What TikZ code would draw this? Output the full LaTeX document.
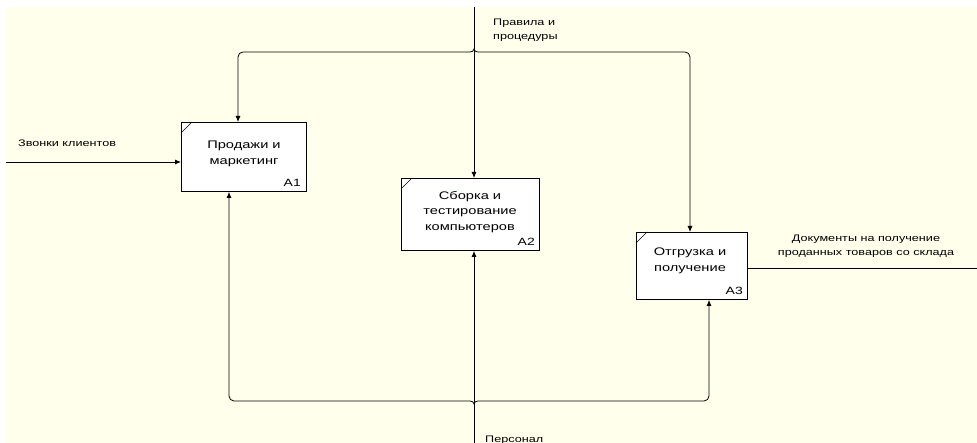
\documentclass[tikz,border=0pt]{standalone}
\usepackage{fontspec}
\setmainfont{Liberation Sans}[FakeStretch=1.33]
\usetikzlibrary{arrows.meta,calc}
\definecolor{cream}{RGB}{255,255,235}
\begin{document}
\begin{tikzpicture}[x=1pt,y=-1pt,
  box/.style={draw=black,fill=white,line width=0.9pt,inner sep=0pt,anchor=north west},
  boxtext/.style={font=\fontsize{11}{15.5}\selectfont,align=center,inner sep=0pt},
  numtext/.style={font=\fontsize{10.5}{12}\selectfont,inner sep=0pt,anchor=base east},
  lbl/.style={font=\fontsize{9.5}{14}\selectfont,inner sep=0pt},
  conn/.style={line width=0.8pt,draw=black},
  arr/.style={conn,-{Latex[length=6pt,width=5pt]}}]
\useasboundingbox (0,0) rectangle (977,443);
\fill[white] (0,0) rectangle (977,443);
\fill[cream] (6,7) rectangle (977,443);

% boxes
\node[box,minimum width=125pt,minimum height=69pt] (a1) at (181,122) {};
\node[box,minimum width=138pt,minimum height=72pt] (a2) at (401,178) {};
\node[box,minimum width=111pt,minimum height=67pt] (a3) at (636,232) {};
\foreach \b in {a1,a2,a3}{
  \draw[line width=0.6pt] ($(\b.north west)+(0,11)$) -- ($(\b.north west)+(11,0)$);
}
\node[boxtext] (t1) at (244,154) {Продажи и\\маркетинг};
\node[boxtext] (t2) at (470,212) {Сборка и\\тестирование\\компьютеров};
\node[boxtext] (t3) at (690,261) {Отгрузка и\\получение};
\node[numtext] (n1) at (301,187) {A1};
\node[numtext] (n2) at (535,246) {A2};
\node[numtext] (n3) at (743,295) {A3};

% input
\coordinate (in0) at (6,162);
\draw[arr] (in0) -- (in0 -| a1.west);
\node[lbl,anchor=west] (lin) at (18,143) {Звонки клиентов};

% output
\coordinate (out1) at (977,268);
\draw[conn] (out1 -| a3.east) -- (out1);
\node[lbl,align=center] (lout) at (866,246) {Документы на получение\\проданных товаров со склада};

% control
\coordinate (ctop) at (474,7);
\coordinate (jt) at (474,52);
\coordinate (cl) at (238,52);
\coordinate (cr) at (690,52);
\draw[arr] (ctop) -- (ctop |- a2.north);
\draw[arr,rounded corners=5pt] ($(jt)+(-4,0)$) -- (cl) -- (cl |- a1.north);
\draw[arr,rounded corners=5pt] ($(jt)+(4,0)$) -- (cr) -- (cr |- a3.north);
\draw[conn] ($(jt)+(-4,0)$) to[out=0,in=-90] ($(jt)+(0,-3)$) to[out=-90,in=180] ($(jt)+(4,0)$);
\node[lbl,align=left,anchor=west] (lctl) at (493,30) {Правила и\\процедуры};

% mechanism
\coordinate (mb) at (474,443);
\coordinate (jb) at (474,401);
\coordinate (ml) at (229,401);
\coordinate (mr) at (709,401);
\draw[arr] (mb) -- (mb |- a2.south);
\draw[arr,rounded corners=5pt] ($(jb)+(-4,0)$) -- (ml) -- (ml |- a1.south);
\draw[arr,rounded corners=5pt] ($(jb)+(4,0)$) -- (mr) -- (mr |- a3.south);
\draw[conn] ($(jb)+(-4,0)$) to[out=0,in=90] ($(jb)+(0,3)$) to[out=90,in=180] ($(jb)+(4,0)$);
\node[lbl,anchor=base west] (lmech) at (485,442) {Персонал};
\end{tikzpicture}
\end{document}
